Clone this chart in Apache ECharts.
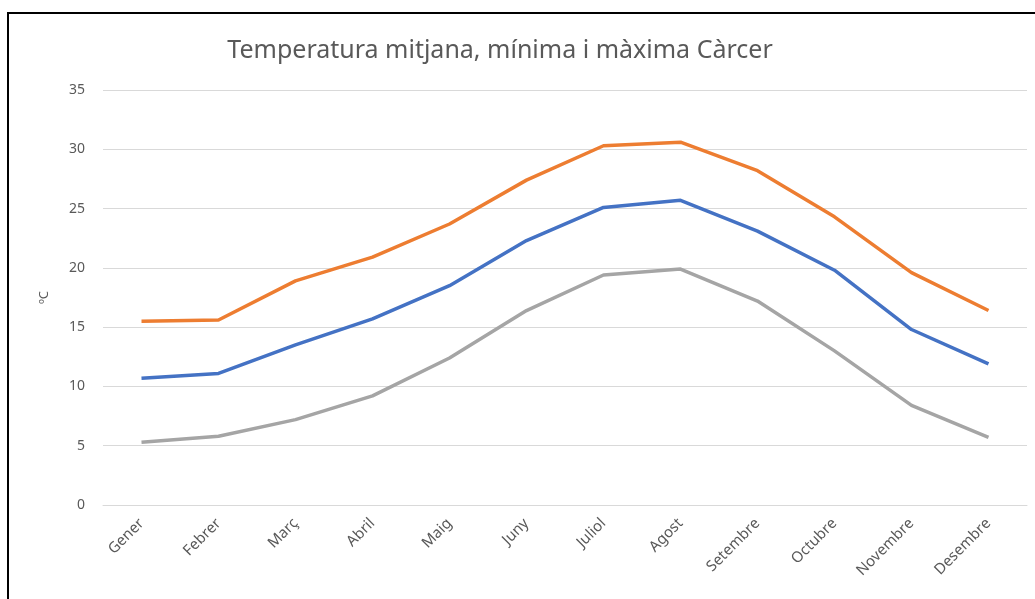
<!DOCTYPE html>
<html>
<head>
<meta charset="utf-8">
<script src="https://cdn.jsdelivr.net/npm/echarts@6/dist/echarts.min.js"></script>
<style>
  html, body { margin: 0; padding: 0; background: #fff; }
  #frame { position: absolute; left: 7px; top: 12px; width: 1040px; height: 600px;
           border-top: 2px solid #000; border-left: 2px solid #000; }
  #chart { position: absolute; left: 0; top: 0; width: 1035px; height: 599px; }
</style>
</head>
<body>
<div id="frame"></div>
<div id="chart"></div>
<script>
var months = ["Gener", "Febrer", "Març", "Abril", "Maig", "Juny", "Juliol", "Agost", "Setembre", "Octubre", "Novembre", "Desembre"];
var maxima = [15.5, 15.6, 18.9, 20.9, 23.7, 27.4, 30.3, 30.6, 28.2, 24.3, 19.6, 16.4];
var mitjana = [10.7, 11.1, 13.5, 15.7, 18.5, 22.3, 25.1, 25.7, 23.1, 19.8, 14.8, 11.9];
var minima = [5.3, 5.8, 7.2, 9.2, 12.4, 16.4, 19.4, 19.9, 17.2, 13.0, 8.4, 5.7];

var font = "Noto Sans";
var myChart = echarts.init(document.getElementById("chart"));
myChart.setOption({
  animation: false,
  title: {
    text: "Temperatura mitjana, mínima i màxima Càrcer",
    left: 495,
    top: 33,
    textAlign: "center",
    textStyle: { color: "#595959", fontSize: 25, fontWeight: "normal", fontFamily: font }
  },
  grid: { left: 103, right: 8, top: 90, bottom: 94 },
  xAxis: {
    type: "category",
    data: months,
    boundaryGap: true,
    axisLine: { lineStyle: { color: "#d9d9d9" } },
    axisTick: { show: false },
    axisLabel: { rotate: 45, color: "#595959", fontSize: 15, fontFamily: font, margin: 16, interval: 0 }
  },
  yAxis: {
    type: "value",
    min: 0,
    max: 35,
    interval: 5,
    name: "ºC",
    nameLocation: "middle",
    nameGap: 52,
    nameRotate: 90,
    nameTextStyle: { color: "#595959", fontSize: 13, fontFamily: font },
    axisLabel: { color: "#595959", fontSize: 14, fontFamily: font, margin: 18 },
    splitLine: { lineStyle: { color: "#d9d9d9" } }
  },
  series: [
    { name: "Màxima", type: "line", data: maxima, symbol: "none", lineStyle: { color: "#ED7D31", width: 3.5 } },
    { name: "Mitjana", type: "line", data: mitjana, symbol: "none", lineStyle: { color: "#4472C4", width: 3.5 } },
    { name: "Mínima", type: "line", data: minima, symbol: "none", lineStyle: { color: "#A5A5A5", width: 3.5 } }
  ]
});
</script>
</body>
</html>
